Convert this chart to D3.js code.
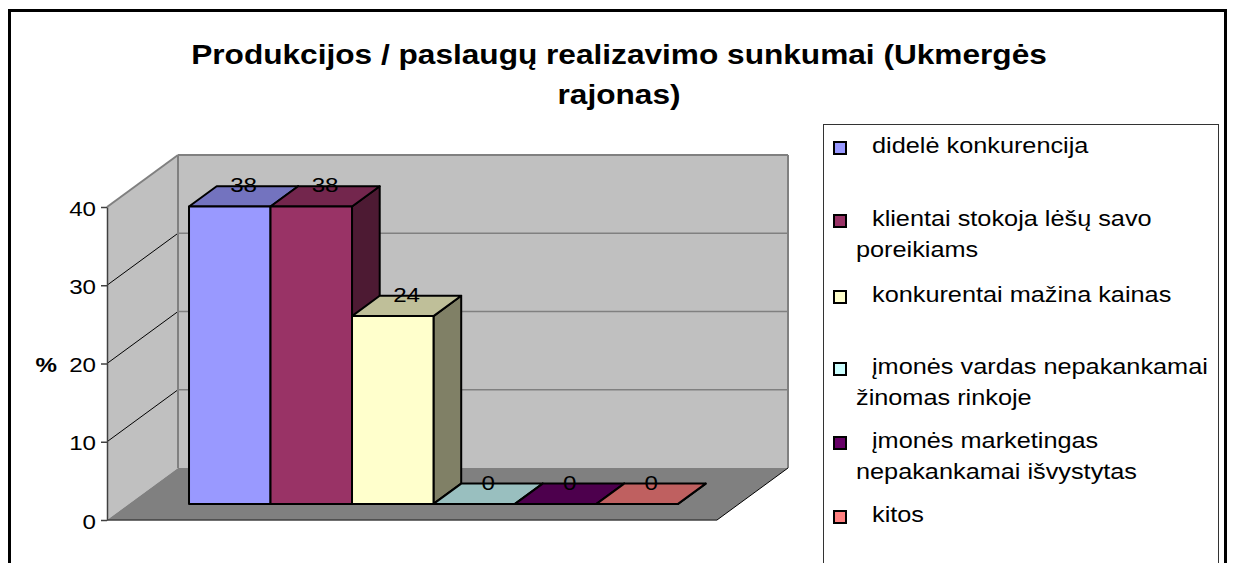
<!DOCTYPE html>
<html>
<head>
<meta charset="utf-8">
<script src="https://cdn.jsdelivr.net/npm/d3@7"></script>
<style>
  html, body { margin: 0; padding: 0; background: #fff; }
  svg { display: block; }
  text { font-family: "Liberation Sans", Arial, sans-serif; }
</style>
</head>
<body>
<svg id="chart" width="1233" height="563"></svg>
<script>
// Chart data
const titleLines = ["Produkcijos / paslaugų realizavimo sunkumai (Ukmergės", "rajonas)"];
const categories = [
  "didelė konkurencija",
  "klientai stokoja lėšų savo poreikiams",
  "konkurentai mažina kainas",
  "įmonės vardas nepakankamai žinomas rinkoje",
  "įmonės marketingas nepakankamai išvystytas",
  "kitos"
];
const values = [38, 38, 24, 0, 0, 0];
const legendLines = [
  ["didelė konkurencija"],
  ["klientai stokoja lėšų savo", "poreikiams"],
  ["konkurentai mažina kainas"],
  ["įmonės vardas nepakankamai", "žinomas rinkoje"],
  ["įmonės marketingas", "nepakankamai išvystytas"],
  ["kitos"]
];
const colors = ["#9999ff", "#993366", "#ffffcc", "#ccffff", "#660066", "#ff8080"];
const yTicks = [0, 10, 20, 30, 40];
const yLabel = "%";

// Layout
const W = 1233, H = 563;
const stretch = 1.15;            // horizontal text stretch
const x0 = 107;                  // front-left corner of the floor
const plotW = 610;               // floor width
const depthX = 71, depthY = -52; // full depth offset of the box
const zFront = 0.31, zBack = 0.70;

const svg = d3.select("#chart");

const y = d3.scaleLinear().domain([0, 40]).range([520, 207]);
const x = d3.scaleBand().domain(categories).range([60, 549]).padding(0);

// project a point: plane x, value, depth fraction
const proj = (px, v, z) => [x0 + px + z * depthX, y(v) + z * depthY];
const poly = pts => "M" + pts.map(p => p.join(",")).join("L") + "Z";

// frame
svg.append("rect")
  .attr("x", 9.5).attr("y", 10.5)
  .attr("width", 1216).attr("height", 600)
  .attr("fill", "#fff").attr("stroke", "#000").attr("stroke-width", 3);

// title
svg.append("g").selectAll("text").data(titleLines).join("text")
  .attr("transform", (d, i) => `translate(619,${64 + i * 40}) scale(${stretch},1)`)
  .attr("text-anchor", "middle")
  .attr("font-weight", "bold")
  .attr("font-size", 27.5)
  .attr("fill", "#000")
  .text(d => d);

// walls and floor
const walls = svg.append("g");
const vMin = 0, vMax = 40;
// side wall
walls.append("path")
  .attr("d", poly([proj(0, vMin, 0), proj(0, vMax, 0), proj(0, vMax, 1), proj(0, vMin, 1)]))
  .attr("fill", "#c0c0c0");
// back wall
walls.append("path")
  .attr("d", poly([proj(0, vMin, 1), proj(0, vMax, 1), proj(plotW, vMax, 1), proj(plotW, vMin, 1)]))
  .attr("fill", "#c0c0c0");
// floor
walls.append("path")
  .attr("d", poly([proj(0, 0, 0), proj(0, 0, 1), proj(plotW, 0, 1), proj(plotW, 0, 0)]))
  .attr("fill", "#808080");

// gridlines
const grid = yTicks.filter(t => t > 0 && t < 40);
walls.selectAll(".gb").data(grid).join("line")
  .attr("x1", d => proj(0, d, 1)[0]).attr("y1", d => proj(0, d, 1)[1])
  .attr("x2", d => proj(plotW, d, 1)[0]).attr("y2", d => proj(plotW, d, 1)[1])
  .attr("stroke", "#808080").attr("stroke-width", 1.5);
walls.selectAll(".gs").data(grid).join("line")
  .attr("x1", d => proj(0, d, 0)[0]).attr("y1", d => proj(0, d, 0)[1])
  .attr("x2", d => proj(0, d, 1)[0]).attr("y2", d => proj(0, d, 1)[1])
  .attr("stroke", "#000").attr("stroke-width", 1);

// wall edges
const edge = (a, b, c, w) => walls.append("line")
  .attr("x1", a[0]).attr("y1", a[1]).attr("x2", b[0]).attr("y2", b[1])
  .attr("stroke", c).attr("stroke-width", w);
edge(proj(0, 40, 0), proj(0, 40, 1), "#808080", 2);
edge(proj(0, 40, 1), proj(plotW, 40, 1), "#808080", 2);
edge(proj(0, 0, 1), proj(0, 40, 1), "#808080", 2);
edge(proj(plotW, 0, 1), proj(plotW, 40, 1), "#808080", 2);
edge(proj(plotW, 0, 0), proj(plotW, 0, 1), "#000", 1);
edge(proj(0, 0, 0), proj(plotW, 0, 0), "#404040", 1.5);

// y axis
const axis = svg.append("g")
  .attr("transform", `translate(${x0},0)`)
  .call(d3.axisLeft(y).tickValues(yTicks).tickSize(6).tickSizeOuter(0).tickPadding(0));
axis.select(".domain").attr("stroke", "#404040").attr("stroke-width", 1.5);
axis.selectAll(".tick line").attr("stroke", "#404040").attr("stroke-width", 1.5);
axis.selectAll(".tick text")
  .attr("x", null).attr("dy", null)
  .attr("transform", `translate(-11,8) scale(${stretch},1)`)
  .attr("font-size", 21)
  .attr("font-family", "Liberation Sans, Arial, sans-serif")
  .attr("fill", "#000");

svg.append("text")
  .attr("transform", `translate(57,${y(20) + 8}) scale(${stretch},1)`)
  .attr("text-anchor", "end")
  .attr("font-weight", "bold")
  .attr("font-size", 21)
  .text(yLabel);

// bars, drawn left to right
const shade = (c, k) => { const r = d3.rgb(c); return d3.rgb(r.r * k, r.g * k, r.b * k).formatHex(); };
const bars = svg.append("g");
categories.forEach((cat, i) => {
  const v = values[i];
  const l = x(cat), r = x(cat) + x.bandwidth();
  const g = bars.append("g");
  // right side
  g.append("path")
    .attr("d", poly([proj(r, 0, zFront), proj(r, v, zFront), proj(r, v, zBack), proj(r, 0, zBack)]))
    .attr("fill", shade(colors[i], 0.5)).attr("stroke", "#000").attr("stroke-width", 2)
    .attr("stroke-linejoin", "round");
  // top
  g.append("path")
    .attr("d", poly([proj(l, v, zFront), proj(l, v, zBack), proj(r, v, zBack), proj(r, v, zFront)]))
    .attr("fill", shade(colors[i], 0.75)).attr("stroke", "#000").attr("stroke-width", 2)
    .attr("stroke-linejoin", "round");
  // front
  g.append("path")
    .attr("d", poly([proj(l, 0, zFront), proj(l, v, zFront), proj(r, v, zFront), proj(r, 0, zFront)]))
    .attr("fill", colors[i]).attr("stroke", "#000").attr("stroke-width", 2)
    .attr("stroke-linejoin", "round");
});

// value labels on the top faces
const zMid = (zFront + zBack) / 2;
svg.append("g").selectAll("text").data(values).join("text")
  .attr("transform", (d, i) => {
    const p = proj(x(categories[i]) + x.bandwidth() / 2, d, zMid);
    return `translate(${p[0]},${p[1] - 4}) scale(${stretch},1)`;
  })
  .attr("text-anchor", "middle")
  .attr("font-size", 21)
  .attr("fill", "#000")
  .text(d => d);

// legend
const lg = svg.append("g");
lg.append("rect")
  .attr("x", 823.5).attr("y", 124.5).attr("width", 395).attr("height", 500)
  .attr("fill", "#fff").attr("stroke", "#333").attr("stroke-width", 1);
const itemTop = [141, 214, 290, 362, 436, 510];
legendLines.forEach((lines, i) => {
  lg.append("rect")
    .attr("x", 834).attr("y", itemTop[i] + 1).attr("width", 12).attr("height", 12)
    .attr("fill", colors[i]).attr("stroke", "#000").attr("stroke-width", 2);
  lines.forEach((t, j) => {
    lg.append("text")
      .attr("transform", `translate(${j === 0 ? 872 : 856},${itemTop[i] + 12 + j * 31}) scale(${stretch},1)`)
      .attr("font-size", 22)
      .attr("fill", "#000")
      .text(t);
  });
});
</script>
</body>
</html>
